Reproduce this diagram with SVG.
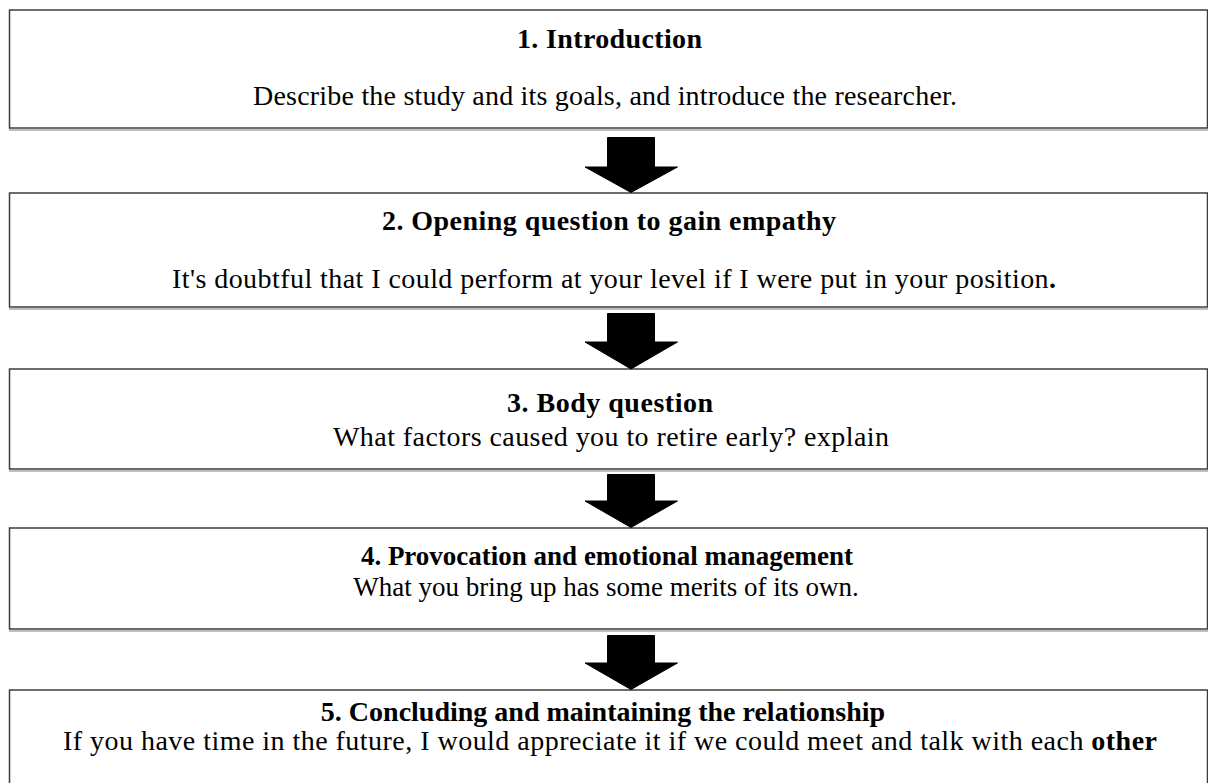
<svg xmlns="http://www.w3.org/2000/svg" width="1208" height="783" viewBox="0 0 1208 783">
<style>
.box{fill:#ffffff;stroke:#3c3c3c;stroke-width:1.5}
.shadow{stroke:#a8a8a8;stroke-width:1.5}
.title{font-family:"Liberation Serif","Times New Roman",serif;font-size:28px;font-weight:bold;fill:#000}
.body{font-family:"Liberation Serif","Times New Roman",serif;font-size:28px;fill:#000}
.mid{text-anchor:middle}
.sm{font-size:27px}
.arrow{fill:#000;stroke:#000;stroke-width:1;stroke-linejoin:round}
</style>
<rect x="0" y="0" width="1208" height="783" fill="#ffffff"/>
<g id="node1">
<rect class="box" x="9.5" y="10" width="1198" height="118"/>
<line class="shadow" x1="9" y1="130" x2="1208" y2="130"/>
<text class="title" x="517" y="48" textLength="185" lengthAdjust="spacing">1. Introduction</text>
<text class="body" x="253" y="105" textLength="704" lengthAdjust="spacing">Describe the study and its goals, and introduce the researcher.</text>
</g>
<g id="node2">
<rect class="box" x="9.5" y="193" width="1198" height="114"/>
<line class="shadow" x1="9" y1="309" x2="1208" y2="309"/>
<text class="title" x="382" y="230" textLength="454" lengthAdjust="spacing">2. Opening question to gain empathy</text>
<text class="body" x="172" y="288" textLength="884" lengthAdjust="spacing">It's doubtful that I could perform at your level if I were put in your position<tspan font-weight="bold">.</tspan></text>
</g>
<g id="node3">
<rect class="box" x="9.5" y="369" width="1198" height="100"/>
<line class="shadow" x1="9" y1="471" x2="1208" y2="471"/>
<text class="title" x="507" y="412" textLength="206" lengthAdjust="spacing">3. Body question</text>
<text class="body" x="333" y="446" textLength="556" lengthAdjust="spacing">What factors caused you to retire early? explain</text>
</g>
<g id="node4">
<rect class="box" x="9.5" y="528" width="1198" height="101"/>
<line class="shadow" x1="9" y1="631" x2="1208" y2="631"/>
<text class="title mid sm" x="607" y="565">4. Provocation and emotional management</text>
<text class="body mid sm" x="606" y="596">What you bring up has some merits of its own.</text>
</g>
<g id="node5">
<rect class="box" x="9.5" y="690" width="1198" height="120"/>
<text class="title mid" x="603" y="721">5. Concluding and maintaining the relationship</text>
<text class="body" x="63" y="750" textLength="1094" lengthAdjust="spacing">If you have time in the future, I would appreciate it if we could meet and talk with each <tspan font-weight="bold">other</tspan></text>
</g>
<g id="connectors">
<polygon class="arrow" points="607.5,137.5 654.5,137.5 654.5,167 677.5,167 631,192.5 585,167 607.5,167"/>
<polygon class="arrow" points="607.5,313.5 654.5,313.5 654.5,342 677.5,342 631,369 585,342 607.5,342"/>
<polygon class="arrow" points="607.5,474.5 654.5,474.5 654.5,501 677.5,501 631,527.5 585,501 607.5,501"/>
<polygon class="arrow" points="607.5,635.5 654.5,635.5 654.5,663 677.5,663 631,689.5 585,663 607.5,663"/>
</g>
</svg>
